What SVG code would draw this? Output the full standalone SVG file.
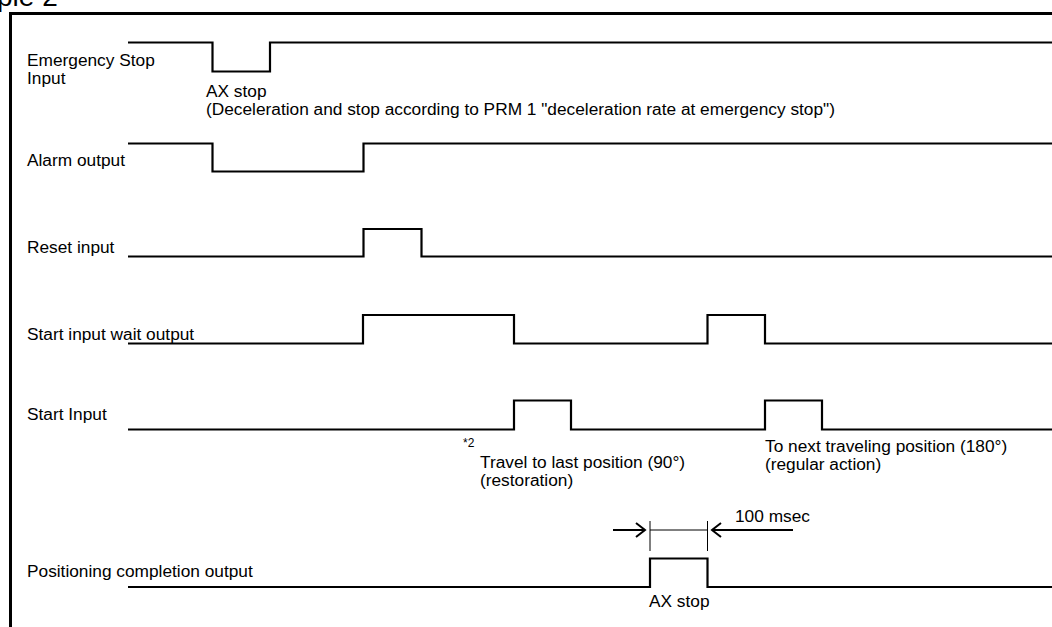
<svg xmlns="http://www.w3.org/2000/svg" width="1052" height="627" viewBox="0 0 1052 627">
<style>
text{font-family:"Liberation Sans",Arial,sans-serif;font-size:17.3px;fill:#000}
.sig{fill:none;stroke:#000;stroke-width:2.2;stroke-linejoin:miter}
.thin{fill:none;stroke:#000;stroke-width:1}
.arr{fill:none;stroke:#000;stroke-width:2}
.small{font-size:12px}
</style>
<rect width="1052" height="627" fill="#fff"/>
<text x="-3" y="6" style="font-size:28px">ple 2</text>
<path d="M10.5 627 V13.5 H1052" fill="none" stroke="#000" stroke-width="3"/>

<g id="emergency-stop">
<text x="27" y="66">Emergency Stop</text>
<text x="27" y="84">Input</text>
</g>
<g id="alarm-output"><text x="27" y="166">Alarm output</text></g>
<g id="reset-input"><text x="27" y="253">Reset input</text></g>
<g id="start-wait"><text x="27" y="340">Start input wait output</text></g>
<g id="start-input"><text x="27" y="420">Start Input</text></g>
<g id="positioning"><text x="27" y="577">Positioning completion output</text></g>

<g id="connectors">
<path class="sig" d="M128 42.5 H212.5 V71.5 H270 V42.5 H1052"/>
<path class="sig" d="M128 143.5 H212.5 V171.5 H363.5 V143.5 H1052"/>
<path class="sig" d="M128 256.5 H363.5 V229 H421.5 V256.5 H1052"/>
<path class="sig" d="M128 343.5 H363 V315 H514 V343.5 H707.5 V315 H765 V343.5 H1052"/>
<path class="sig" d="M128 429.5 H514 V400.5 H571 V429.5 H765 V400.5 H822 V429.5 H1052"/>
<path class="sig" d="M128 587 H650 V558.5 H707.5 V587 H1052"/>
<line class="thin" x1="650" y1="521" x2="650" y2="551"/>
<line class="thin" x1="707.5" y1="521" x2="707.5" y2="551"/>
<line class="thin" x1="650" y1="530" x2="707.5" y2="530"/>
<path class="arr" d="M613 530 H645 M636 523 L645 530 L636 537"/>
<path class="arr" d="M793 530 H712 M721 523 L712 530 L721 537"/>
</g>

<g id="labels">
<text x="206" y="97">AX stop</text>
<text x="206" y="115">(Deceleration and stop according to PRM 1 "deceleration rate at emergency stop")</text>
<text x="463" y="447" class="small">*2</text>
<text x="480" y="468">Travel to last position (90°)</text>
<text x="480" y="486">(restoration)</text>
<text x="765" y="452">To next traveling position (180°)</text>
<text x="765" y="470">(regular action)</text>
<text x="735" y="522">100 msec</text>
<text x="649" y="607">AX stop</text>
</g>
</svg>
